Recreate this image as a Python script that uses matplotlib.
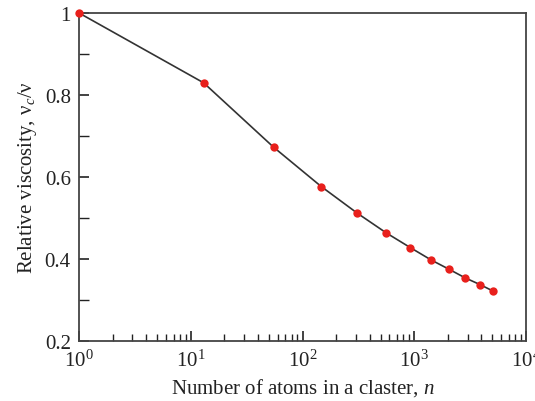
import numpy as np
import matplotlib
matplotlib.use('Agg')
import matplotlib.pyplot as plt
from matplotlib.ticker import LogLocator, MultipleLocator

plt.rcParams['font.family'] = 'Liberation Serif'
plt.rcParams['mathtext.fontset'] = 'custom'
plt.rcParams['mathtext.rm'] = 'Liberation Serif'
plt.rcParams['mathtext.it'] = 'Liberation Serif:italic'

# cluster sizes (magic numbers) and relative viscosity
n_atoms = [1, 13, 55, 147, 309, 561, 923, 1415, 2057, 2869, 3871, 5083]
visc = [1.0, 0.830, 0.673, 0.577, 0.512, 0.464, 0.428, 0.398, 0.375, 0.354, 0.338, 0.322]

fig = plt.figure(figsize=(5.35, 4.02), dpi=100)
ax = fig.add_axes([0.148, 0.149, 0.835, 0.816])

ax.plot(n_atoms, visc, color='#333333', lw=1.2, zorder=2)
ax.plot(n_atoms, visc, 'o', color='#e8201c', ms=6, mec='none', zorder=3, clip_on=False)

ax.set_xscale('log')
ax.set_xlim(1, 1e4)
ax.set_ylim(0.2, 1.0)
ax.xaxis.set_major_locator(LogLocator(base=10))
ax.xaxis.set_minor_locator(LogLocator(base=10, subs=np.arange(2, 10)))
ax.yaxis.set_major_locator(MultipleLocator(0.2))
ax.yaxis.set_minor_locator(MultipleLocator(0.1))
ax.set_yticks([0.2, 0.4, 0.6, 0.8, 1.0])
ax.set_yticklabels(['0.2', '0.4', '0.6', '0.8', '1'])

ax.tick_params(which='both', direction='in', top=False, right=False, labelsize=15, colors='#222222')
ax.tick_params(which='major', length=7, width=1.2, pad=6)
ax.tick_params(which='minor', length=5, width=1.0)
ax.tick_params(axis='y', which='minor', length=7)
for s in ax.spines.values():
    s.set_linewidth(1.3)
    s.set_color('#444444')

ax.set_xlabel('Number of atoms in a claster, $n$', fontsize=15, color='#222222')
ax.set_ylabel('Relative viscosity, $\\mathrm{\\nu}_c/\\mathrm{\\nu}$', fontsize=15, color='#222222')

plt.savefig('out.png')
